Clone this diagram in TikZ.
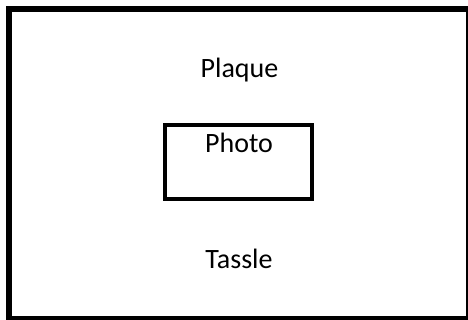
\documentclass[tikz,border=0pt]{standalone}
\usepackage{fontspec}
\setmainfont{Carlito}
\begin{document}
\begin{tikzpicture}[x=1pt,y=1pt,
  box/.style={draw=black,fill=none,inner sep=0pt,outer sep=0pt},
  lbl/.style={font=\fontsize{28}{32}\selectfont,anchor=base,inner sep=0pt}]
\useasboundingbox (0,0) rectangle (468,320);
\clip (0,0) rectangle (468,320);
\fill[white] (0,0) rectangle (468,320);
\node[box,line width=6pt,minimum width=460pt,minimum height=310pt] (frame) at (239,156) {};
\node[box,line width=4pt,minimum width=147pt,minimum height=74pt] (photobox) at (238.5,158) {};
\node[lbl] (plaque) at (239.5,242) {Plaque};
\node[lbl] (photo) at (239,167) {Photo};
\node[lbl] (tassle) at (239,51) {Tassle};
\end{tikzpicture}
\end{document}
